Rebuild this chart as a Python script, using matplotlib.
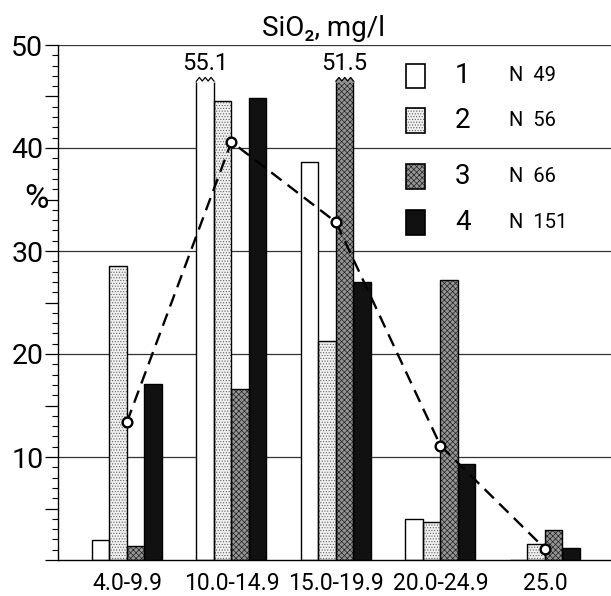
import numpy as np
import matplotlib
matplotlib.use('Agg')
import matplotlib.pyplot as plt
from matplotlib.patches import Rectangle
from matplotlib.ticker import MultipleLocator, FuncFormatter

plt.rcParams['font.family'] = ['Roboto', 'DejaVu Sans']
plt.rcParams['hatch.linewidth'] = 0.5

# data
categories = ['4.0-9.9', '10.0-14.9', '15.0-19.9', '20.0-24.9', '25.0']
group1 = [1.9, 55.1, 38.6, 4.0, 0.0]
group2 = [28.5, 44.6, 21.3, 3.7, 1.6]
group3 = [1.4, 16.6, 51.5, 27.2, 2.9]
group4 = [17.1, 44.9, 27.0, 9.3, 1.2]
mean_line = [13.4, 40.6, 32.8, 11.1, 1.1]
series_names = ['1', '2', '3', '4']
series_n = [49, 56, 66, 151]

cap = 46.5  # bars taller than this are broken off
styles = [
    dict(face='white', hatch=None, hcol='black'),
    dict(face='#f0f0f0', hatch='......', hcol='#606060'),
    dict(face='#959595', hatch='xxxxxx', hcol='#222222'),
    dict(face='#111111', hatch=None, hcol='#111111'),
]

fig = plt.figure(figsize=(6.11, 5.96), dpi=100)
ax = fig.add_axes([58 / 611, 36 / 596, 1 - 58 / 611, 515 / 596])

x = np.arange(len(categories))
width = 0.1675
offsets = [-1.5 * width, -0.5 * width, 0.5 * width, 1.5 * width]

for yv in [10, 20, 30, 40, 50]:
    ax.axhline(yv, color='#333333', lw=0.9, zorder=1)

for vals, off, st in zip([group1, group2, group3, group4], offsets, styles):
    shown = [min(v, cap) for v in vals]
    ax.bar(x + off, shown, width, color=st['face'], edgecolor=st['hcol'],
           hatch=st['hatch'], linewidth=0, zorder=2)
    ax.bar(x + off, shown, width, fill=False, edgecolor='black', linewidth=1.0, zorder=3)
    for xi, v in zip(x, vals):
        if v > cap:
            left = xi + off - width / 2
            zx = np.linspace(left, left + width, 7)
            zy = cap + np.array([0, 0.35, 0, 0.35, 0, 0.35, 0])
            ax.fill_between(zx, cap - 0.05, zy, color=st['face'], zorder=3)
            ax.plot(zx, zy, color='black', lw=0.9, zorder=4)
            ax.text(xi + off, cap + 0.55, f'{v:.1f}', ha='center', va='bottom',
                    fontsize=17, zorder=5)

ax.plot(x, mean_line, color='black', lw=1.7, dashes=(5.5, 3.2), marker='o',
        markersize=7, markerfacecolor='white', markeredgecolor='black',
        markeredgewidth=1.7, zorder=6)

# legend drawn by hand
rows_y = [47.0, 42.7, 37.2, 32.8]
for st, name, n, ry in zip(styles, series_names, series_n, rows_y):
    ax.add_patch(Rectangle((2.67, ry - 1.2), 0.18, 2.4, facecolor=st['face'],
                           edgecolor=st['hcol'], hatch=st['hatch'], linewidth=0, zorder=4))
    ax.add_patch(Rectangle((2.67, ry - 1.2), 0.18, 2.4, fill=False,
                           edgecolor='black', linewidth=1.2, zorder=5))
    ax.text(3.215, ry, name, ha='center', va='center', fontsize=20)
    ax.text(3.655, ry, f'N  {n}', ha='left', va='center', fontsize=14.5)

ax.set_xlim(-0.66, 4.632)
ax.set_ylim(0, 50)
ax.set_xticks(x)
ax.set_xticklabels(categories, fontsize=16.5)
ax.tick_params(axis='x', length=0, pad=9)

ax.yaxis.set_major_locator(MultipleLocator(5))
ax.yaxis.set_minor_locator(MultipleLocator(1))
ax.yaxis.set_major_formatter(FuncFormatter(lambda v, p: f'{int(v)}' if v % 10 == 0 and v > 0 else ''))
ax.tick_params(axis='y', which='major', length=9.5, width=0.9, labelsize=20.5, pad=1)
ax.tick_params(axis='y', which='minor', length=4.5, width=0.8)
ax.text(-0.87, 35, '%', ha='center', va='center', fontsize=24)

for side in ['top', 'right']:
    ax.spines[side].set_visible(False)
ax.spines['left'].set_linewidth(1.0)
ax.spines['bottom'].set_linewidth(1.0)

fig.text(323 / 611, 1 - 28 / 596, 'SiO₂, mg/l', ha='center', va='center', fontsize=20)

fig.savefig('out.png', dpi=100)
